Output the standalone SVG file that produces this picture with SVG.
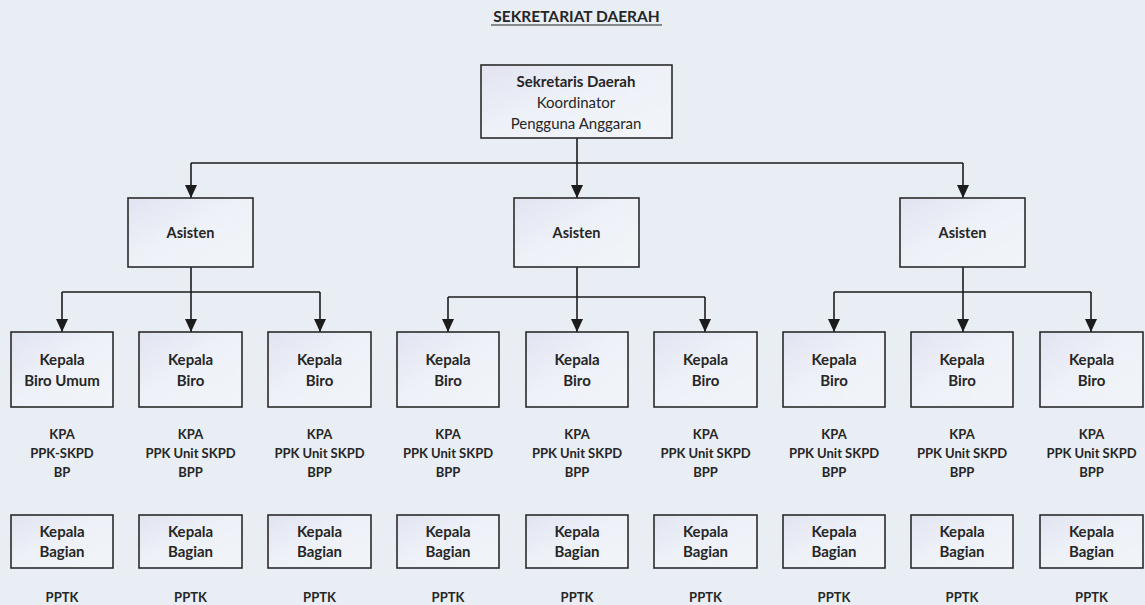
<svg xmlns="http://www.w3.org/2000/svg" width="1145" height="605" viewBox="0 0 1145 605">
<defs>
<linearGradient id="bf" x1="0" y1="0" x2="1" y2="1">
<stop offset="0" stop-color="#e2e3f1"/>
<stop offset="0.5" stop-color="#eef2f8"/>
<stop offset="1" stop-color="#f1f4f8"/>
</linearGradient>
<marker id="ahd" viewBox="0 0 12 13" refX="6" refY="13" markerWidth="12" markerHeight="13" markerUnits="userSpaceOnUse" orient="0">
<path d="M0 0 L12 0 L6 13 Z" fill="#1c1c1c"/>
</marker>
</defs>
<style>
.box{fill:url(#bf);stroke:#2b2b2b;stroke-width:1.6}
.t{font-family:Lato,"Open Sans","Liberation Sans",sans-serif;font-weight:bold;fill:#262626;text-anchor:middle}
.n{font-family:Lato,"Open Sans","Liberation Sans",sans-serif;font-weight:normal;fill:#262626;text-anchor:middle}
.k{font-size:15px}
.l{font-size:13px}
.c{fill:none;stroke:#1c1c1c;stroke-width:1.6}
.a{fill:none;stroke:#1c1c1c;stroke-width:1.6;marker-end:url(#ahd)}
</style>
<rect width="1145" height="605" fill="#e9eef5"/>
<text class="t" x="576.5" y="22" font-size="15.5">SEKRETARIAT DAERAH</text>
<line x1="491" y1="25" x2="662" y2="25" stroke="#262626" stroke-width="1.2"/>

<g id="connectors">
<path class="c" d="M577 138 V163 M191 163 H963"/>
<path class="a" d="M191 163 V198"/>
<path class="a" d="M577 163 V198"/>
<path class="a" d="M963 163 V198"/>
<path class="c" d="M191 267 V292 M62 292 H320"/>
<path class="a" d="M62 292 V332"/>
<path class="a" d="M191 292 V332"/>
<path class="a" d="M320 292 V332"/>
<path class="c" d="M577 267 V297 M448 297 H705"/>
<path class="a" d="M448 297 V332"/>
<path class="a" d="M577 297 V332"/>
<path class="a" d="M705 297 V332"/>
<path class="c" d="M963 267 V292 M834 292 H1091"/>
<path class="a" d="M834 292 V332"/>
<path class="a" d="M963 292 V332"/>
<path class="a" d="M1091 292 V332"/>
</g>

<g id="sekda">
<rect class="box" x="481" y="65" width="191" height="73"/>
<text class="t" x="576" y="87" font-size="15">Sekretaris Daerah</text>
<text class="n" x="576" y="108" font-size="15">Koordinator</text>
<text class="n" x="576" y="129" font-size="15">Pengguna Anggaran</text>
</g>

<g id="asisten1"><rect class="box" x="128" y="198" width="125" height="69"/><text class="t" font-size="14.5" x="190.5" y="238">Asisten</text></g>
<g id="asisten2"><rect class="box" x="514" y="198" width="125" height="69"/><text class="t" font-size="14.5" x="576.5" y="238">Asisten</text></g>
<g id="asisten3"><rect class="box" x="900" y="198" width="125" height="69"/><text class="t" font-size="14.5" x="962.5" y="238">Asisten</text></g>

<g id="biro1"><rect class="box" x="11" y="332" width="102" height="75"/><text class="t k" x="62" y="365">Kepala</text><text class="t k" x="62" y="386">Biro Umum</text></g>
<g id="biro2"><rect class="box" x="139" y="332" width="103" height="75"/><text class="t k" x="190.5" y="365">Kepala</text><text class="t k" x="190.5" y="386">Biro</text></g>
<g id="biro3"><rect class="box" x="268" y="332" width="103" height="75"/><text class="t k" x="319.5" y="365">Kepala</text><text class="t k" x="319.5" y="386">Biro</text></g>
<g id="biro4"><rect class="box" x="397" y="332" width="102" height="75"/><text class="t k" x="448" y="365">Kepala</text><text class="t k" x="448" y="386">Biro</text></g>
<g id="biro5"><rect class="box" x="526" y="332" width="102" height="75"/><text class="t k" x="577" y="365">Kepala</text><text class="t k" x="577" y="386">Biro</text></g>
<g id="biro6"><rect class="box" x="654" y="332" width="103" height="75"/><text class="t k" x="705.5" y="365">Kepala</text><text class="t k" x="705.5" y="386">Biro</text></g>
<g id="biro7"><rect class="box" x="783" y="332" width="102" height="75"/><text class="t k" x="834" y="365">Kepala</text><text class="t k" x="834" y="386">Biro</text></g>
<g id="biro8"><rect class="box" x="911" y="332" width="102" height="75"/><text class="t k" x="962" y="365">Kepala</text><text class="t k" x="962" y="386">Biro</text></g>
<g id="biro9"><rect class="box" x="1040" y="332" width="103" height="75"/><text class="t k" x="1091.5" y="365">Kepala</text><text class="t k" x="1091.5" y="386">Biro</text></g>

<g id="role1"><text class="t l" x="62" y="439">KPA</text><text class="t l" x="62" y="458">PPK-SKPD</text><text class="t l" x="62" y="477">BP</text></g>
<g id="role2"><text class="t l" x="190.5" y="439">KPA</text><text class="t l" x="190.5" y="458">PPK Unit SKPD</text><text class="t l" x="190.5" y="477">BPP</text></g>
<g id="role3"><text class="t l" x="319.5" y="439">KPA</text><text class="t l" x="319.5" y="458">PPK Unit SKPD</text><text class="t l" x="319.5" y="477">BPP</text></g>
<g id="role4"><text class="t l" x="448" y="439">KPA</text><text class="t l" x="448" y="458">PPK Unit SKPD</text><text class="t l" x="448" y="477">BPP</text></g>
<g id="role5"><text class="t l" x="577" y="439">KPA</text><text class="t l" x="577" y="458">PPK Unit SKPD</text><text class="t l" x="577" y="477">BPP</text></g>
<g id="role6"><text class="t l" x="705.5" y="439">KPA</text><text class="t l" x="705.5" y="458">PPK Unit SKPD</text><text class="t l" x="705.5" y="477">BPP</text></g>
<g id="role7"><text class="t l" x="834" y="439">KPA</text><text class="t l" x="834" y="458">PPK Unit SKPD</text><text class="t l" x="834" y="477">BPP</text></g>
<g id="role8"><text class="t l" x="962" y="439">KPA</text><text class="t l" x="962" y="458">PPK Unit SKPD</text><text class="t l" x="962" y="477">BPP</text></g>
<g id="role9"><text class="t l" x="1091.5" y="439">KPA</text><text class="t l" x="1091.5" y="458">PPK Unit SKPD</text><text class="t l" x="1091.5" y="477">BPP</text></g>

<g id="bagian1"><rect class="box" x="11" y="515" width="102" height="53"/><text class="t k" x="62" y="537">Kepala</text><text class="t k" x="62" y="557">Bagian</text><text class="t l" x="62" y="602">PPTK</text></g>
<g id="bagian2"><rect class="box" x="139" y="515" width="103" height="53"/><text class="t k" x="190.5" y="537">Kepala</text><text class="t k" x="190.5" y="557">Bagian</text><text class="t l" x="190.5" y="602">PPTK</text></g>
<g id="bagian3"><rect class="box" x="268" y="515" width="103" height="53"/><text class="t k" x="319.5" y="537">Kepala</text><text class="t k" x="319.5" y="557">Bagian</text><text class="t l" x="319.5" y="602">PPTK</text></g>
<g id="bagian4"><rect class="box" x="397" y="515" width="102" height="53"/><text class="t k" x="448" y="537">Kepala</text><text class="t k" x="448" y="557">Bagian</text><text class="t l" x="448" y="602">PPTK</text></g>
<g id="bagian5"><rect class="box" x="526" y="515" width="102" height="53"/><text class="t k" x="577" y="537">Kepala</text><text class="t k" x="577" y="557">Bagian</text><text class="t l" x="577" y="602">PPTK</text></g>
<g id="bagian6"><rect class="box" x="654" y="515" width="103" height="53"/><text class="t k" x="705.5" y="537">Kepala</text><text class="t k" x="705.5" y="557">Bagian</text><text class="t l" x="705.5" y="602">PPTK</text></g>
<g id="bagian7"><rect class="box" x="783" y="515" width="102" height="53"/><text class="t k" x="834" y="537">Kepala</text><text class="t k" x="834" y="557">Bagian</text><text class="t l" x="834" y="602">PPTK</text></g>
<g id="bagian8"><rect class="box" x="911" y="515" width="102" height="53"/><text class="t k" x="962" y="537">Kepala</text><text class="t k" x="962" y="557">Bagian</text><text class="t l" x="962" y="602">PPTK</text></g>
<g id="bagian9"><rect class="box" x="1040" y="515" width="103" height="53"/><text class="t k" x="1091.5" y="537">Kepala</text><text class="t k" x="1091.5" y="557">Bagian</text><text class="t l" x="1091.5" y="602">PPTK</text></g>
</svg>
